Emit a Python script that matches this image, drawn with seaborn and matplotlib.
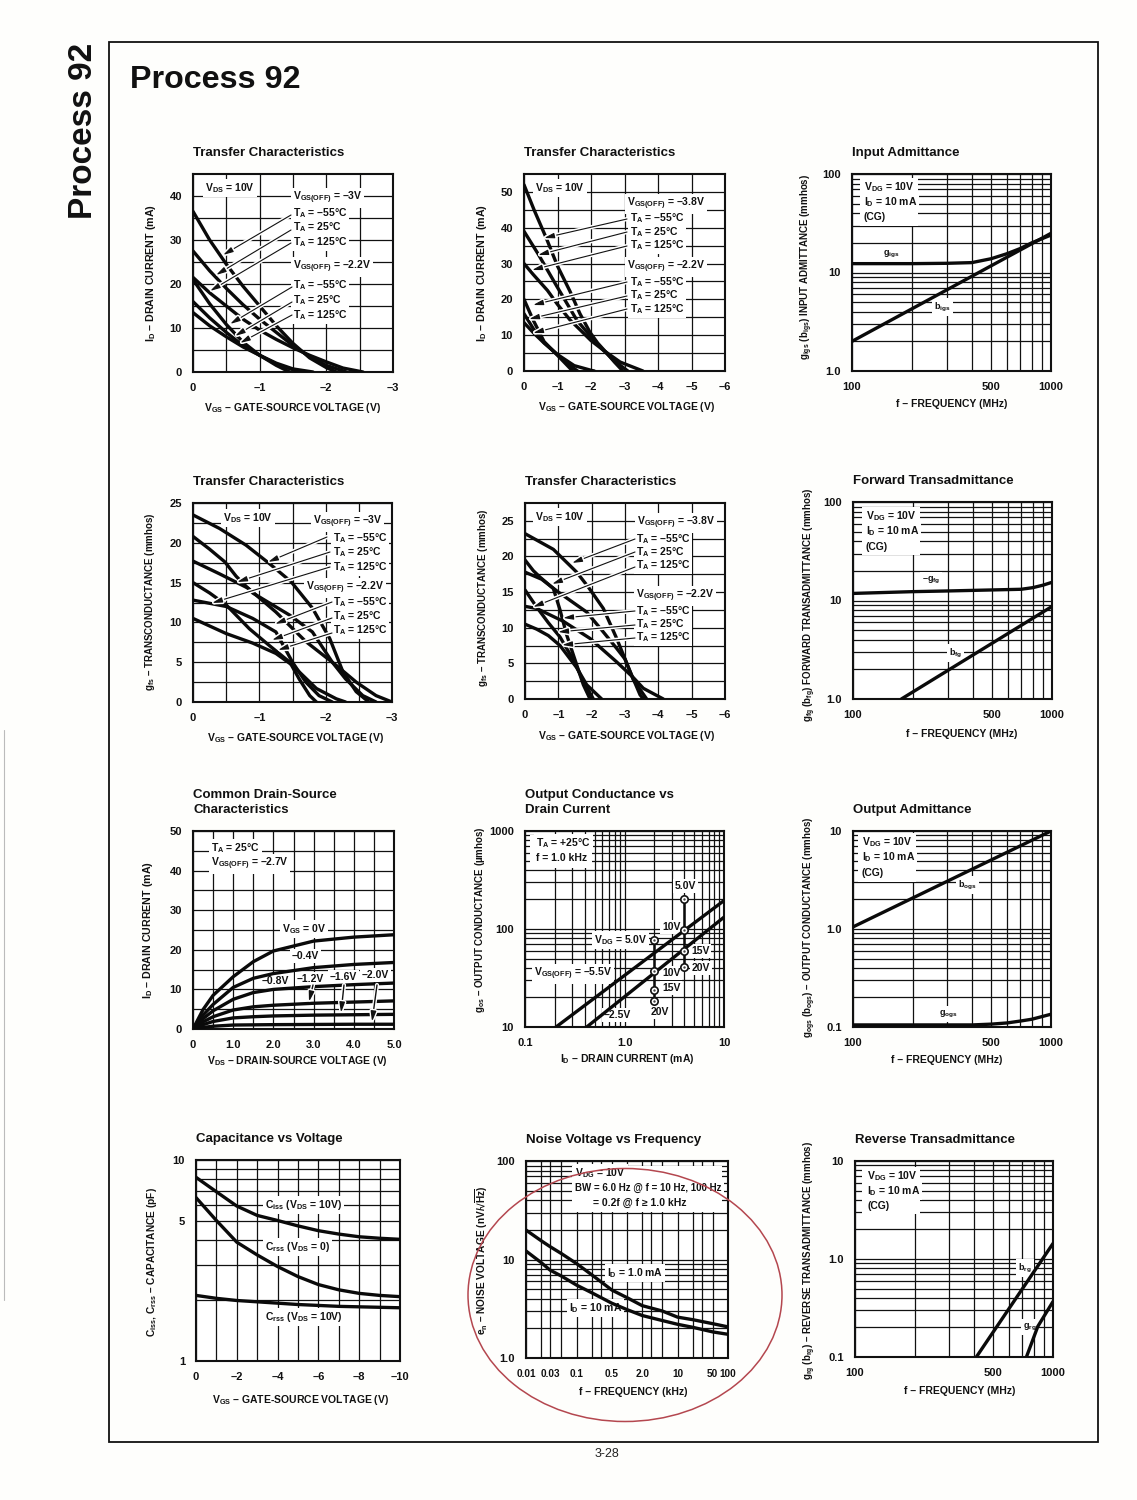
import numpy as np
import matplotlib
matplotlib.use('Agg')
import matplotlib.pyplot as plt
from matplotlib.patches import Rectangle, Ellipse
from matplotlib.transforms import Affine2D
from matplotlib.ticker import NullFormatter
import matplotlib.patheffects as pe
import seaborn as sns

sns.set_theme(style='white')
plt.rcParams['font.family'] = ['Liberation Sans', 'DejaVu Sans']
plt.rcParams['font.weight'] = 'bold'
plt.rcParams['axes.titleweight'] = 'bold'
plt.rcParams['axes.labelweight'] = 'bold'
plt.rcParams['mathtext.fontset'] = 'custom'
plt.rcParams['mathtext.rm'] = 'Liberation Sans:bold'
plt.rcParams['mathtext.default'] = 'rm'
plt.rcParams['axes.unicode_minus'] = False

W, H = 1137, 1500

# tick labels
volt3_ticks = [0, -1, -2, -3]
volt3_labels = ['0', '–1', '–2', '–3']
volt6_ticks = [0, -1, -2, -3, -4, -5, -6]
volt6_labels = ['0', '–1', '–2', '–3', '–4', '–5', '–6']
freq_ticks = [100, 500, 1000]
freq_labels = ['100', '500', '1000']
freq_grid = [200, 300, 400, 600, 700, 800, 900]

# panel 1: I_D vs V_GS, V_GS(OFF) = -3V and -2.2V
id1_a_x = [0, -0.25, -0.5, -0.75, -1, -1.25, -1.5, -1.75, -2, -2.15]
id1_a_y = [36.5, 30, 24.5, 19.5, 15, 10.5, 6.5, 3.2, 1, 0]
id1_b_x = [0, -0.25, -0.5, -0.75, -1, -1.25, -1.5, -1.75, -2, -2.3]
id1_b_y = [27.5, 23, 19, 15.3, 12, 9, 6, 3.5, 1.5, 0]
id1_c_x = [0, -0.25, -0.5, -0.75, -1, -1.25, -1.5, -1.75, -2, -2.25, -2.55]
id1_c_y = [21.5, 18, 15, 12, 9.5, 7.4, 5.5, 3.8, 2.3, 0.9, 0]
id1_d_x = [0, -0.25, -0.5, -0.75, -1, -1.25, -1.45]
id1_d_y = [21, 15.5, 10.8, 6.8, 3.8, 1.5, 0]
id1_e_x = [0, -0.25, -0.5, -0.75, -1, -1.25, -1.6]
id1_e_y = [16, 12.3, 9, 6, 3.8, 1.8, 0]
id1_f_x = [0, -0.25, -0.5, -0.75, -1, -1.25, -1.5, -1.8]
id1_f_y = [13.5, 10.5, 8, 5.7, 3.8, 2, 0.7, 0]

# panel 2: I_D vs V_GS, V_GS(OFF) = -3.8V and -2.2V
id2_a_x = [0, -0.3, -0.67, -1, -1.37, -1.67, -1.97, -2.2, -2.47, -2.7, -2.95]
id2_a_y = [52, 45, 37, 29.3, 22.3, 16, 10.8, 7.8, 5, 2.5, 0]
id2_b_x = [0, -0.42, -0.97, -1.57, -2, -2.37, -2.7, -3.1]
id2_b_y = [39, 32.7, 23.8, 14.3, 9.5, 5.8, 2.8, 0]
id2_c_x = [0, -0.27, -0.7, -1, -1.37, -2, -2.37, -2.87, -3.55]
id2_c_y = [30, 27, 22.5, 18.6, 14.3, 8.5, 5.8, 2.5, 0]
id2_d_x = [0, -0.27, -0.6, -1, -1.45]
id2_d_y = [20, 14.3, 8.2, 4.4, 0]
id2_e_x = [0, -0.3, -0.6, -1, -1.3, -1.6]
id2_e_y = [16, 11.5, 7.9, 4.5, 2, 0]
id2_f_x = [0, -0.3, -0.6, -1, -1.5, -2, -2.1]
id2_f_y = [13.5, 10.5, 7.8, 4.6, 1.5, 0.2, 0]

# panel 4: g_fs vs V_GS
gm1_a_x = [0, -0.4, -0.8, -1.15, -1.48, -1.8, -2.06, -2.26, -2.46, -2.65]
gm1_a_y = [23.5, 21.8, 19.7, 17.4, 15.1, 11.8, 8, 3.8, 1.3, 0]
gm1_b_x = [0, -0.25, -0.48, -0.65, -0.9, -1.46, -1.8, -2.1, -2.3, -2.56, -2.76]
gm1_b_y = [20.8, 19.2, 17.6, 15.8, 13.7, 10.9, 8.8, 5, 2.9, 0.8, 0]
gm1_c_x = [0, -0.4, -0.83, -1.25, -1.7, -2.16, -2.46, -2.76, -3]
gm1_c_y = [17.7, 16.1, 14.3, 11.3, 7.6, 4.6, 2.5, 0.8, 0]
gm1_d_x = [0, -0.25, -0.5, -0.85, -1.15, -1.46, -1.6, -1.76, -1.86]
gm1_d_y = [15, 13.7, 12.2, 9.2, 7.1, 5, 2.9, 0.8, 0]
gm1_e_x = [0, -0.5, -0.9, -1.25, -1.5, -1.7, -1.9, -2.1]
gm1_e_y = [12.8, 12, 10.5, 8.8, 5, 2.5, 0.8, 0]
gm1_f_x = [0, -0.5, -0.9, -1.25, -1.5, -1.86, -2.16, -2.3]
gm1_f_y = [10.5, 8.6, 7.4, 6.1, 4.6, 1.7, 0.4, 0]

# panel 5: g_fs vs V_GS
gm2_a_x = [0, -0.85, -1.55, -1.9, -2.35, -2.75, -3.15, -3.45, -3.55]
gm2_a_y = [23.2, 21, 17.8, 15.7, 12.7, 8.5, 3.9, 0.6, 0]
gm2_b_x = [0, -0.5, -1, -1.85, -2.35, -2.75, -3, -3.25, -3.65]
gm2_b_y = [17.8, 16.8, 15, 12.2, 9.4, 7.1, 5.6, 2.7, 0]
gm2_c_x = [0, -0.35, -1.15, -1.95, -2.75, -3.25, -3.55, -4.15]
gm2_c_y = [13, 12.7, 10.9, 8.5, 5.2, 3, 1.5, 0]
gm2_d_x = [0, -0.25, -0.45, -0.85, -1.05, -1.25, -1.55, -1.75, -1.95]
gm2_d_y = [19.5, 18, 17.1, 15.5, 12.5, 9, 4.8, 2, 0]
gm2_e_x = [0, -0.35, -0.7, -1.05, -1.45, -1.75, -2.05]
gm2_e_y = [15.3, 12.9, 10.7, 8.7, 5.5, 2.5, 0]
gm2_f_x = [0, -0.35, -0.7, -1.05, -1.55, -1.85, -2.3]
gm2_f_y = [10.5, 9.8, 8.9, 7.5, 4.4, 2, 0]

# panel 3, 11, 10, 12: admittances vs frequency
igs_x = [100, 200, 300, 400, 500, 600, 700, 800, 1000]
igs_g = [12.3, 12.3, 12.4, 12.6, 13.8, 15.5, 17.5, 20, 24]
igs_b_x = [100, 1000]
igs_b = [2, 25]
ffg_x = [100, 200, 300, 500, 700, 800, 900, 1000]
ffg_g = [11.8, 12.3, 12.5, 12.8, 13, 13.5, 14.3, 15.3]
ffg_b_x = [175, 1000]
ffg_b = [1, 8.7]
ogs_x = [100, 200, 300, 400, 500, 600, 700, 800, 1000]
ogs_g = [0.105, 0.105, 0.105, 0.105, 0.107, 0.11, 0.115, 0.12, 0.135]
ogs_b_x = [100, 1000]
ogs_b = [1.05, 10]
rg_b_x = [410, 1000]
rg_b = [0.1, 1.44]
rg_g_x = [734, 838, 1000]
rg_g = [0.1, 0.205, 0.368]

# panel 6: common drain-source
ds_x = [0, 0.25, 0.5, 1, 1.5, 2, 3, 4, 5]
ds_0v = [0, 4.9, 8.5, 13.2, 17, 19.7, 22.2, 23.2, 23.8]
ds_04v = [0, 3.5, 6.2, 10.5, 12.8, 14, 15.5, 16.3, 16.8]
ds_08v = [0, 2.6, 4.6, 7.5, 9.2, 10, 10.7, 11.2, 11.6]
ds_12v = [0, 1.8, 3.1, 4.8, 5.6, 6, 6.5, 6.8, 7.1]
ds_16v = [0, 1.1, 1.9, 2.8, 3.1, 3.3, 3.5, 3.6, 3.7]
ds_20v = [0, 0.4, 0.7, 1, 1.05, 1.1, 1.15, 1.2, 1.2]

# panel 7: output conductance
gos_a_x = [0.205, 10]
gos_a_y = [10, 195]
gos_b_x = [0.417, 10]
gos_b_y = [10, 132]
gos_pts1_x = [2, 2, 2, 2]
gos_pts1_y = [77, 37, 24, 18.5]
gos_pts2_x = [4, 4, 4, 4]
gos_pts2_y = [200, 98, 59, 41]

# panel 8: noise voltage
noise_x = [0.01, 0.02, 0.03, 0.05, 0.1, 0.2, 0.5, 1, 2, 5, 10, 20, 50, 100]
noise_1ma = [19.9, 15.5, 13.5, 11.5, 9.1, 7, 4.9, 4.1, 3.4, 3, 2.6, 2.45, 2.23, 2.07]
noise_10ma = [12.2, 9.3, 7.8, 6.8, 5.5, 4.6, 3.6, 3.1, 2.7, 2.4, 2.2, 2.05, 1.84, 1.74]
noise_ticks = [0.01, 0.03, 0.1, 0.5, 2, 10, 50, 100]
noise_labels = ['0.01', '0.03', '0.1', '0.5', '2.0', '10', '50', '100']
noise_grid = [0.02, 0.03, 0.05, 0.2, 0.3, 0.5, 1, 2, 3, 5, 20, 30, 50]

# panel 9: capacitance
cap_x = [0, -1, -2, -3, -4, -5, -6, -7, -8, -9, -10]
cap_iss = [8.2, 6.95, 5.9, 5.3, 5, 4.7, 4.45, 4.28, 4.15, 4.08, 4.03]
cap_rss0 = [6.5, 5, 3.9, 3.37, 2.95, 2.63, 2.4, 2.26, 2.17, 2.12, 2.09]
cap_rss10 = [2.12, 2.05, 2, 1.97, 1.94, 1.91, 1.89, 1.87, 1.86, 1.85, 1.84]
cap_ticks = [0, -2, -4, -6, -8, -10]
cap_labels = ['0', '–2', '–4', '–6', '–8', '–10']

fig = plt.figure(figsize=(W / 100, H / 100), dpi=100, facecolor='#fefefc')
# coordinates of the scanned page, in pixels from the top left
page = Affine2D().scale(1 / W, -1 / H).translate(0, 1) + fig.transFigure


def decades(lo, hi):
    out = []
    d = lo
    while d < hi:
        out += [d * k for k in range(1, 10)]
        d *= 10
    return out


def panel(box, title, xlabel, ylabel, xpos, ypos, xlim, ylim, xticks, xticklabels, xgrid,
          yticks, yticklabels, ygrid, logx=False, logy=False, ysize=7):
    l, t, r, b = box
    ax = fig.add_axes([l / W, 1 - b / H, (r - l) / W, (b - t) / H], facecolor='white')
    if logx:
        ax.set_xscale('log')
    if logy:
        ax.set_yscale('log')
    ax.set_xticks(xticks, xticklabels)
    ax.set_yticks(yticks, yticklabels)
    ax.set_xticks(xgrid, minor=True)
    ax.set_yticks(ygrid, minor=True)
    ax.xaxis.set_minor_formatter(NullFormatter())
    ax.yaxis.set_minor_formatter(NullFormatter())
    ax.set_xlim(*xlim)
    ax.set_ylim(*ylim)
    ax.set_axisbelow(True)
    ax.grid(True, which='both', color='#111111', linewidth=0.9)
    ax.tick_params(which='both', length=0, labelsize=8, colors='#111111')
    ax.tick_params(axis='x', pad=8)
    ax.tick_params(axis='y', pad=8)
    for s in ax.spines.values():
        s.set_visible(True)
        s.set_color('#111111')
        s.set_linewidth(1.5)
    ax.set_title(title, loc='left', fontsize=9.5, pad=13, color='#111111', linespacing=1.35)
    ax.set_xlabel(xlabel, fontsize=7.5, color='#111111', va='center')
    ax.set_ylabel(ylabel, fontsize=ysize, color='#111111', va='center')
    ax.xaxis.set_label_coords(xpos[0], xpos[1], transform=page)
    ax.yaxis.set_label_coords(ypos[0], ypos[1], transform=page)
    return ax


def curve(ax, x, y, lw=2.4):
    sns.lineplot(x=x, y=y, ax=ax, color='#0a0a0a', linewidth=lw, estimator=None, sort=False,
                 legend=False, zorder=3)


def label(ax, x, y, s, ha='left', size=7.5):
    ax.text(x, y, s, transform=page, ha=ha, va='center', fontsize=size, color='#111111', zorder=2.2,
            clip_on=False, bbox=dict(facecolor='white', edgecolor='none', pad=1.5))


def blank(ax, x0, y0, x1, y1):
    ax.add_patch(Rectangle((x0, y0), x1 - x0, y1 - y0, transform=page, facecolor='white',
                           edgecolor='none', zorder=2))


def arrow(ax, tail, tip, lw=0.8):
    ax.annotate('', xy=tip, xytext=tail, xycoords=page, textcoords=page, zorder=3.5,
                arrowprops=dict(arrowstyle='-|>,head_length=0.5,head_width=0.13', color='#111111',
                                lw=lw, shrinkA=0, shrinkB=0,
                                path_effects=[pe.withStroke(linewidth=3, foreground='white')]))


VGS_X = 'V$_{GS}$ – GATE-SOURCE VOLTAGE (V)'
FREQ_X = 'f – FREQUENCY (MHz)'

# ---- row 1 ----
ax = panel((193, 174, 393, 372), 'Transfer Characteristics', VGS_X, 'I$_D$ – DRAIN CURRENT (mA)',
           (293, 408), (151, 273), (0, -3), (0, 45), volt3_ticks, volt3_labels,
           list(np.arange(-0.5, -3, -0.5)), [0, 10, 20, 30, 40], ['0', '10', '20', '30', '40'],
           list(range(5, 45, 5)), ysize=7.7)
for cx, cy in [(id1_a_x, id1_a_y), (id1_b_x, id1_b_y), (id1_c_x, id1_c_y),
               (id1_d_x, id1_d_y), (id1_e_x, id1_e_y), (id1_f_x, id1_f_y)]:
    curve(ax, cx, cy)
blank(ax, 291, 206, 349, 250)
blank(ax, 291, 277, 349, 322)
label(ax, 205, 188, 'V$_{DS}$ = 10V')
label(ax, 293, 198, 'V$_{GS(OFF)}$ = –3V')
for yy, s in zip([213, 227, 242], ['–55', '25', '125']):
    label(ax, 293, yy, 'T$_A$ = %s°C' % s)
label(ax, 293, 267, 'V$_{GS(OFF)}$ = –2.2V')
for yy, s in zip([285, 300, 315], ['–55', '25', '125']):
    label(ax, 293, yy, 'T$_A$ = %s°C' % s)
for tail, tip in [((291, 215), (223, 255)), ((291, 230), (216, 275)), ((291, 243), (210, 291)),
                  ((292, 287), (230, 324)), ((292, 302), (235, 336)), ((292, 315), (240, 343))]:
    arrow(ax, tail, tip)

ax = panel((524, 174, 725, 371), 'Transfer Characteristics', VGS_X, 'I$_D$ – DRAIN CURRENT (mA)',
           (627, 407), (482, 273), (0, -6), (0, 55), volt6_ticks, volt6_labels, [],
           [0, 10, 20, 30, 40, 50], ['0', '10', '20', '30', '40', '50'], list(range(5, 55, 5)), ysize=7.7)
for cx, cy in [(id2_a_x, id2_a_y), (id2_b_x, id2_b_y), (id2_c_x, id2_c_y),
               (id2_d_x, id2_d_y), (id2_e_x, id2_e_y), (id2_f_x, id2_f_y)]:
    curve(ax, cx, cy)
blank(ax, 628, 211, 686, 252)
blank(ax, 628, 275, 686, 316)
label(ax, 535, 188, 'V$_{DS}$ = 10V')
label(ax, 627, 204, 'V$_{GS(OFF)}$ = –3.8V')
for yy, s in zip([218, 232, 245], ['–55', '25', '125']):
    label(ax, 630, yy, 'T$_A$ = %s°C' % s)
label(ax, 627, 267, 'V$_{GS(OFF)}$ = –2.2V')
for yy, s in zip([282, 295, 309], ['–55', '25', '125']):
    label(ax, 630, yy, 'T$_A$ = %s°C' % s)
for tail, tip in [((627, 219), (544, 238)), ((627, 232), (538, 255)), ((627, 246), (532, 270)),
                  ((627, 282), (533, 305)), ((627, 296), (529, 319)), ((627, 309), (533, 333))]:
    arrow(ax, tail, tip)

ax = panel((852, 174, 1051, 371), 'Input Admittance', FREQ_X, 'g$_{igs}$ (b$_{igs}$) INPUT ADMITTANCE (mmhos)',
           (952, 404), (807, 267), (100, 1000), (1, 100), freq_ticks, freq_labels, freq_grid,
           [1, 10, 100], ['1.0', '10', '100'], decades(1, 100), logx=True, logy=True)
curve(ax, igs_x, igs_g)
curve(ax, igs_b_x, igs_b)
blank(ax, 860, 178, 918, 226)
label(ax, 864, 187, 'V$_{DG}$ = 10V')
label(ax, 864, 202, 'I$_D$ = 10 mA')
label(ax, 864, 217, '(CG)')
label(ax, 883, 254, 'g$_{igs}$', size=6.5)
label(ax, 934, 307, 'b$_{igs}$', size=6.5)

# ---- row 2 ----
ax = panel((193, 503, 392, 702), 'Transfer Characteristics', VGS_X, 'g$_{fs}$ – TRANSCONDUCTANCE (mmhos)',
           (296, 738), (150, 602), (0, -3), (0, 25), volt3_ticks, volt3_labels,
           list(np.arange(-0.5, -3, -0.5)), [0, 5, 10, 15, 20, 25], ['0', '5', '10', '15', '20', '25'],
           [2.5, 7.5, 12.5, 17.5, 22.5])
for cx, cy in [(gm1_a_x, gm1_a_y), (gm1_b_x, gm1_b_y), (gm1_c_x, gm1_c_y),
               (gm1_d_x, gm1_d_y), (gm1_e_x, gm1_e_y), (gm1_f_x, gm1_f_y)]:
    curve(ax, cx, cy)
blank(ax, 331, 531, 388, 574)
blank(ax, 331, 595, 388, 637)
label(ax, 223, 518, 'V$_{DS}$ = 10V')
label(ax, 313, 522, 'V$_{GS(OFF)}$ = –3V')
for yy, s in zip([538, 552, 567], ['–55', '25', '125']):
    label(ax, 333, yy, 'T$_A$ = %s°C' % s)
label(ax, 306, 588, 'V$_{GS(OFF)}$ = –2.2V')
for yy, s in zip([602, 616, 630], ['–55', '25', '125']):
    label(ax, 333, yy, 'T$_A$ = %s°C' % s)
for tail, tip in [((327, 537), (268, 562)), ((330, 552), (237, 582)), ((330, 567), (212, 603)),
                  ((332, 602), (275, 624)), ((332, 618), (272, 640)), ((332, 633), (278, 650))]:
    arrow(ax, tail, tip)

ax = panel((525, 503, 725, 699), 'Transfer Characteristics', VGS_X, 'g$_{fs}$ – TRANSCONDUCTANCE (mmhos)',
           (627, 736), (483, 598), (0, -6), (0, 27.5), volt6_ticks, volt6_labels, [],
           [0, 5, 10, 15, 20, 25], ['0', '5', '10', '15', '20', '25'], [2.5, 7.5, 12.5, 17.5, 22.5])
for cx, cy in [(gm2_a_x, gm2_a_y), (gm2_b_x, gm2_b_y), (gm2_c_x, gm2_c_y),
               (gm2_d_x, gm2_d_y), (gm2_e_x, gm2_e_y), (gm2_f_x, gm2_f_y)]:
    curve(ax, cx, cy)
blank(ax, 634, 532, 692, 572)
blank(ax, 634, 604, 692, 644)
label(ax, 535, 517, 'V$_{DS}$ = 10V')
label(ax, 637, 523, 'V$_{GS(OFF)}$ = –3.8V')
for yy, s in zip([539, 552, 565], ['–55', '25', '125']):
    label(ax, 636, yy, 'T$_A$ = %s°C' % s)
label(ax, 636, 596, 'V$_{GS(OFF)}$ = –2.2V')
for yy, s in zip([611, 624, 637], ['–55', '25', '125']):
    label(ax, 636, yy, 'T$_A$ = %s°C' % s)
for tail, tip in [((635, 539), (572, 563)), ((635, 552), (552, 584)), ((635, 567), (533, 607)),
                  ((635, 611), (563, 618)), ((635, 625), (558, 632)), ((635, 638), (562, 645))]:
    arrow(ax, tail, tip)

ax = panel((853, 502, 1052, 699), 'Forward Transadmittance', FREQ_X,
           'g$_{fg}$ (b$_{fg}$) FORWARD TRANSADMITTANCE (mmhos)',
           (962, 734), (810, 605), (100, 1000), (1, 100), freq_ticks, freq_labels, freq_grid,
           [1, 10, 100], ['1.0', '10', '100'], decades(1, 100), logx=True, logy=True)
curve(ax, ffg_x, ffg_g)
curve(ax, ffg_b_x, ffg_b)
blank(ax, 862, 507, 920, 555)
label(ax, 866, 516, 'V$_{DG}$ = 10V')
label(ax, 866, 531, 'I$_D$ = 10 mA')
label(ax, 866, 547, '(CG)')
label(ax, 922, 580, '–g$_{fg}$', size=6.5)
label(ax, 949, 653, 'b$_{fg}$', size=6.5)

# ---- row 3 ----
ax = panel((193, 831, 394, 1029), 'Common Drain-Source\nCharacteristics', 'V$_{DS}$ – DRAIN-SOURCE VOLTAGE (V)',
           'I$_D$ – DRAIN CURRENT (mA)', (297, 1061), (148, 930), (0, 5), (0, 50),
           [0, 1, 2, 3, 4, 5], ['0', '1.0', '2.0', '3.0', '4.0', '5.0'], list(np.arange(0.5, 5, 0.5)),
           [0, 10, 20, 30, 40, 50], ['0', '10', '20', '30', '40', '50'], list(range(5, 50, 5)), ysize=7.7)
for cy in [ds_0v, ds_04v, ds_08v, ds_12v, ds_16v, ds_20v]:
    curve(ax, ds_x, cy)
label(ax, 211, 848, 'T$_A$ = 25°C')
label(ax, 211, 864, 'V$_{GS(OFF)}$ = –2.7V')
label(ax, 282, 929, 'V$_{GS}$ = 0V')
label(ax, 292, 956, '–0.4V')
label(ax, 262, 981, '–0.8V')
label(ax, 297, 979, '–1.2V')
label(ax, 330, 977, '–1.6V')
label(ax, 362, 975, '–2.0V')
for tail, tip in [((313, 985), (309, 1002)), ((344, 985), (341, 1013)), ((377, 985), (372, 1022))]:
    arrow(ax, tail, tip, lw=1.0)

ax = panel((525, 831, 724, 1027), 'Output Conductance vs\nDrain Current', 'I$_D$ – DRAIN CURRENT (mA)',
           'g$_{os}$ – OUTPUT CONDUCTANCE (µmhos)', (627, 1059), (480, 920), (0.1, 10), (10, 1000),
           [0.1, 1, 10], ['0.1', '1.0', '10'], decades(0.1, 10), [10, 100, 1000], ['10', '100', '1000'],
           decades(10, 1000), logx=True, logy=True)
curve(ax, gos_a_x, gos_a_y)
curve(ax, gos_b_x, gos_b_y)
curve(ax, gos_pts1_x, gos_pts1_y, lw=1.8)
curve(ax, gos_pts2_x, gos_pts2_y, lw=1.8)
sns.scatterplot(x=gos_pts1_x + gos_pts2_x, y=gos_pts1_y + gos_pts2_y, ax=ax, s=28, facecolor='white',
                edgecolor='#111111', linewidth=1.2, zorder=4, legend=False)
sns.scatterplot(x=gos_pts1_x + gos_pts2_x, y=gos_pts1_y + gos_pts2_y, ax=ax, s=3, color='#444444',
                linewidth=0, zorder=4.5, legend=False)
blank(ax, 530, 835, 592, 868)
label(ax, 536, 843, 'T$_A$ = +25°C')
label(ax, 536, 858, 'f = 1.0 kHz')
label(ax, 675, 886, '5.0V')
label(ax, 662, 927, '10V')
label(ax, 594, 940, 'V$_{DG}$ = 5.0V')
label(ax, 534, 974, 'V$_{GS(OFF)}$ = –5.5V')
label(ax, 604, 1015, '–2.5V')
label(ax, 662, 973, '10V')
label(ax, 691, 951, '15V')
label(ax, 692, 968, '20V')
label(ax, 662, 988, '15V')
label(ax, 651, 1012, '20V')

ax = panel((853, 831, 1051, 1027), 'Output Admittance', FREQ_X, 'g$_{ogs}$ (b$_{ogs}$) – OUTPUT CONDUCTANCE (mmhos)',
           (947, 1060), (810, 927), (100, 1000), (0.1, 10), freq_ticks, freq_labels, freq_grid,
           [0.1, 1, 10], ['0.1', '1.0', '10'], decades(0.1, 10), logx=True, logy=True)
curve(ax, ogs_x, ogs_g)
curve(ax, ogs_b_x, ogs_b)
blank(ax, 858, 834, 916, 882)
label(ax, 862, 842, 'V$_{DG}$ = 10V')
label(ax, 862, 857, 'I$_D$ = 10 mA')
label(ax, 862, 873, '(CG)')
label(ax, 958, 885, 'b$_{ogs}$', size=6.5)
label(ax, 939, 1014, 'g$_{ogs}$', size=6.5)

# ---- row 4 ----
ax = panel((196, 1160, 400, 1361), 'Capacitance vs Voltage', VGS_X, 'C$_{iss}$, C$_{rss}$ – CAPACITANCE (pF)',
           (301, 1400), (152, 1262), (0, -10), (1, 10), cap_ticks, cap_labels, [-1, -3, -5, -7, -9],
           [1, 5, 10], ['1', '5', '10'], [2, 3, 4, 5, 6, 7, 8, 9], logy=True, ysize=7.3)
curve(ax, cap_x, cap_iss)
curve(ax, cap_x, cap_rss0)
curve(ax, cap_x, cap_rss10)
label(ax, 265, 1205, 'C$_{iss}$ (V$_{DS}$ = 10V)')
label(ax, 265, 1247, 'C$_{rss}$ (V$_{DS}$ = 0)')
label(ax, 265, 1317, 'C$_{rss}$ (V$_{DS}$ = 10V)')

ax = panel((526, 1161, 728, 1358), 'Noise Voltage vs Frequency', 'f – FREQUENCY (kHz)',
           'e$_n$ – NOISE VOLTAGE (nV/√$\\overline{Hz}$)', (633, 1392), (482, 1260), (0.01, 100), (1, 100),
           noise_ticks, noise_labels, noise_grid, [1, 10, 100], ['1.0', '10', '100'], decades(1, 100),
           logx=True, logy=True, ysize=7.3)
ax.tick_params(axis='x', labelsize=7.2)
curve(ax, noise_x, noise_1ma)
curve(ax, noise_x, noise_10ma)
blank(ax, 572, 1166, 722, 1212)
label(ax, 575, 1173, 'V$_{DG}$ = 10V')
label(ax, 575, 1188, 'BW = 6.0 Hz @ f = 10 Hz, 100 Hz', size=7)
label(ax, 593, 1203, '= 0.2f @ f ≥ 1.0 kHz')
label(ax, 607, 1273, 'I$_D$ = 1.0 mA')
label(ax, 569, 1308, 'I$_D$ = 10 mA')

ax = panel((855, 1161, 1053, 1357), 'Reverse Transadmittance', FREQ_X,
           'g$_{rg}$ (b$_{rg}$) – REVERSE TRANSADMITTANCE (mmhos)',
           (960, 1391), (810, 1260), (100, 1000), (0.1, 10), freq_ticks, freq_labels, freq_grid,
           [0.1, 1, 10], ['0.1', '1.0', '10'], decades(0.1, 10), logx=True, logy=True)
curve(ax, rg_b_x, rg_b)
curve(ax, rg_g_x, rg_g)
blank(ax, 862, 1168, 920, 1214)
label(ax, 867, 1176, 'V$_{DG}$ = 10V')
label(ax, 867, 1191, 'I$_D$ = 10 mA')
label(ax, 867, 1206, '(CG)')
label(ax, 1018, 1268, 'b$_{rg}$', size=6.5)
label(ax, 1023, 1327, 'g$_{rg}$', size=6.5)

# page furniture
fig.add_artist(Rectangle((109, 42), 989, 1400, transform=page, fill=False, edgecolor='#111111', linewidth=1.3))
fig.text(130, 80, 'Process 92', transform=page, fontsize=23.2, ha='left', va='center', color='#111111')
fig.text(84, 131, 'Process 92', transform=page, fontsize=24, rotation=90, ha='center', va='center', color='#111111')
fig.text(607, 1454, '3-28', transform=page, fontsize=9, fontweight='normal', ha='center', va='center', color='#222222')
fig.add_artist(Ellipse((625, 1295), 314, 253, transform=page, fill=False, edgecolor='#b4474f', linewidth=1.1))
fig.add_artist(plt.Line2D([4, 4], [730, 1300], transform=page, color='#bbbbbb', linewidth=0.8))

fig.savefig('out.png', dpi=100, facecolor=fig.get_facecolor())
